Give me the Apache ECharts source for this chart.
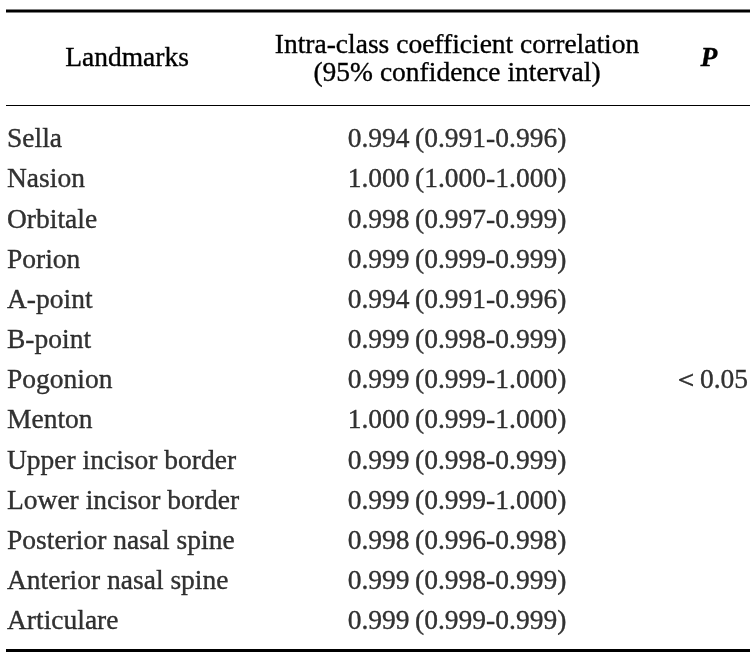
<!DOCTYPE html>
<html>
<head>
<meta charset="utf-8">
<script src="https://cdn.jsdelivr.net/npm/echarts@6/dist/echarts.min.js"></script>
<style>html,body{margin:0;padding:0;background:#fff}#c{width:751px;height:661px}</style>
</head>
<body>
<div id="c"></div>
<script>
const landmarks = ['Sella','Nasion','Orbitale','Porion','A-point','B-point','Pogonion','Menton','Upper incisor border','Lower incisor border','Posterior nasal spine','Anterior nasal spine','Articulare'];
const icc    = [0.994, 1.000, 0.998, 0.999, 0.994, 0.999, 0.999, 1.000, 0.999, 0.999, 0.998, 0.999, 0.999];
const ciLow  = [0.991, 1.000, 0.997, 0.999, 0.991, 0.998, 0.999, 0.999, 0.998, 0.999, 0.996, 0.998, 0.999];
const ciHigh = [0.996, 1.000, 0.999, 0.999, 0.996, 0.999, 1.000, 1.000, 0.999, 1.000, 0.998, 0.999, 0.999];
const pRow = 'Pogonion';
const pText = '＜0.05';
const headers = ['Landmarks', 'Intra-class coefficient correlation', '(95% confidence interval)', 'P'];

const FONT = 'Liberation Serif';
const FS = 27.5;
const COL1 = 7, COL2 = 457, COL3 = 710;
const TB = {textBorderColor: '#000', textBorderWidth: 0.35};

const chart = echarts.init(document.getElementById('c'), null, {renderer: 'canvas'});
const lbl = (align) => Object.assign({show: true, position: 'inside', align: align, verticalAlign: 'middle',
  fontFamily: FONT, fontSize: FS, color: '#000'}, TB);
const hdr = (text, x, y, style) => ({type: 'text', x: x, y: y,
  style: Object.assign({text: text, font: (style || '') + FS + 'px "' + FONT + '"', fill: '#000',
    stroke: '#000', lineWidth: 0.35, align: 'center', verticalAlign: 'middle'})});
chart.setOption({
  animation: false,
  backgroundColor: '#fff',
  grid: {left: 0, right: 0, top: 120, height: 522},
  xAxis: {type: 'value', min: 0, max: 751, show: false},
  yAxis: {type: 'category', data: landmarks, inverse: true, show: false},
  series: [
    {type: 'scatter', symbolSize: 0, data: landmarks.map(r => ({value: [COL1, r], name: r})),
     label: Object.assign(lbl('left'), {formatter: p => p.name})},
    {type: 'scatter', symbolSize: 0,
     data: landmarks.map((r, i) => ({value: [COL2, r], name: icc[i].toFixed(3) + '\u2009(' + ciLow[i].toFixed(3) + '-' + ciHigh[i].toFixed(3) + ')'})),
     label: Object.assign(lbl('center'), {formatter: p => p.name})},
    {type: 'scatter', symbolSize: 0, data: [{value: [COL3, pRow], name: pText}],
     label: Object.assign(lbl('center'), {formatter: p => p.name})}
  ],
  graphic: [
    {type: 'line', shape: {x1: 6, y1: 11, x2: 750, y2: 11}, style: {stroke: '#000', lineWidth: 3}},
    {type: 'line', shape: {x1: 6, y1: 105.5, x2: 750, y2: 105.5}, style: {stroke: '#000', lineWidth: 1}},
    {type: 'line', shape: {x1: 6, y1: 650.5, x2: 750, y2: 650.5}, style: {stroke: '#000', lineWidth: 3}},
    hdr(headers[0], 127, 59),
    hdr(headers[1], COL2, 46),
    hdr(headers[2], COL2, 74),
    hdr(headers[3], 709, 59, 'italic bold ')
  ]
});
</script>
</body>
</html>
